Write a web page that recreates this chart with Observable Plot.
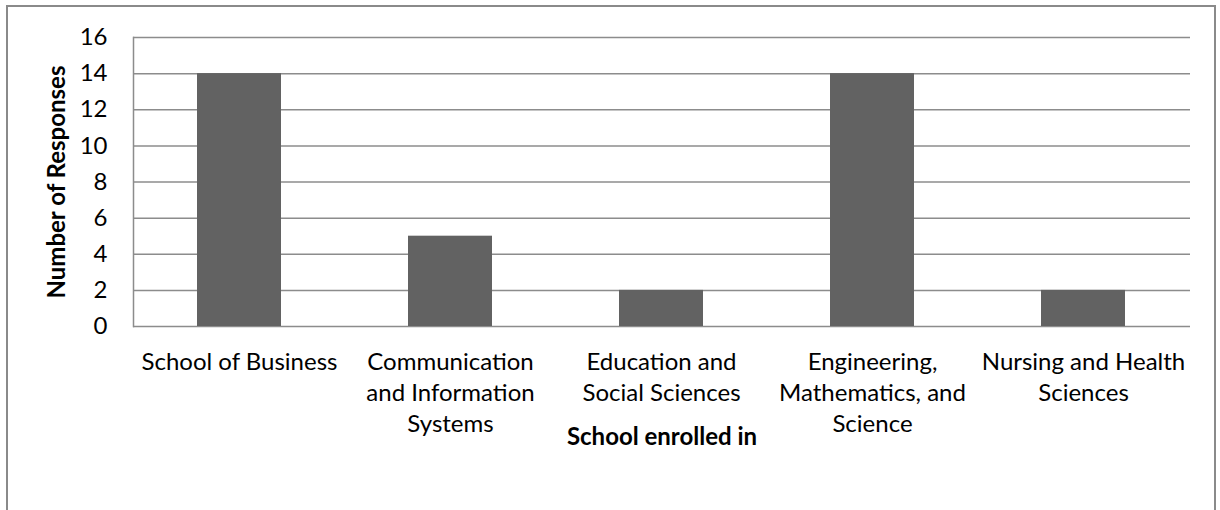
<!DOCTYPE html>
<html><head><meta charset="utf-8">
<script src="https://cdn.jsdelivr.net/npm/d3@7"></script>
<script src="https://cdn.jsdelivr.net/npm/@observablehq/plot@0.6"></script>
<style>
body{margin:0;background:#fff;}
#frame{position:absolute;left:6px;top:5px;width:1210px;height:530px;border:2px solid #8a8a8a;box-sizing:border-box;}
#chart{position:absolute;left:0;top:0;}
</style></head>
<body><div id="frame"></div><div id="chart"></div>
<script>
const schools = ["School of Business","Communication and Information Systems","Education and Social Sciences","Engineering, Mathematics, and Science","Nursing and Health Sciences"];
const tickLabels = ["School of Business","Communication\nand Information\nSystems","Education and\nSocial Sciences","Engineering,\nMathematics, and\nScience","Nursing and Health\nSciences"];
const responses = [14, 5, 2, 14, 2];
const yTicks = [0,2,4,6,8,10,12,14,16];

const data = schools.map((s,i)=>({school:s, n:responses[i]}));
const labelMap = new Map(schools.map((s,i)=>[s,tickLabels[i]]));
const font = "Lato, 'Open Sans', sans-serif";

const chart = Plot.plot({
  width:1220, height:510,
  marginLeft:133, marginRight:30, marginTop:37, marginBottom:184,
  style:{fontFamily:font, fontSize:"24px", color:"#000", background:"transparent"},
  x:{domain:schools, paddingInner:0.6, paddingOuter:0.3, label:null},
  y:{domain:[0,16], ticks:yTicks, label:null},
  marks:[
    Plot.gridY(yTicks, {stroke:"#8c8c8c", strokeOpacity:1, strokeWidth:1.5}),
    Plot.barY(data, {x:"school", y:"n", fill:"#626262"}),
    Plot.frame({anchor:"left", stroke:"#8c8c8c", strokeWidth:1.5}),
    Plot.axisY(yTicks, {tickSize:0, tickPadding:26, fontSize:24, label:null}),
    Plot.axisX({tickSize:0, tickPadding:21, fontSize:24, lineHeight:1.3, tickFormat:d=>labelMap.get(d), label:null}),
    Plot.text(["School enrolled in"], {frameAnchor:"bottom", textAnchor:"middle", lineAnchor:"middle", dy:111, fontWeight:"bold", fontSize:24}),
    Plot.text(["Number of Responses"], {frameAnchor:"left", textAnchor:"middle", lineAnchor:"middle", dx:-76, rotate:-90, fontWeight:"bold", fontSize:24})
  ]
});
document.getElementById("chart").appendChild(chart);
</script></body></html>
